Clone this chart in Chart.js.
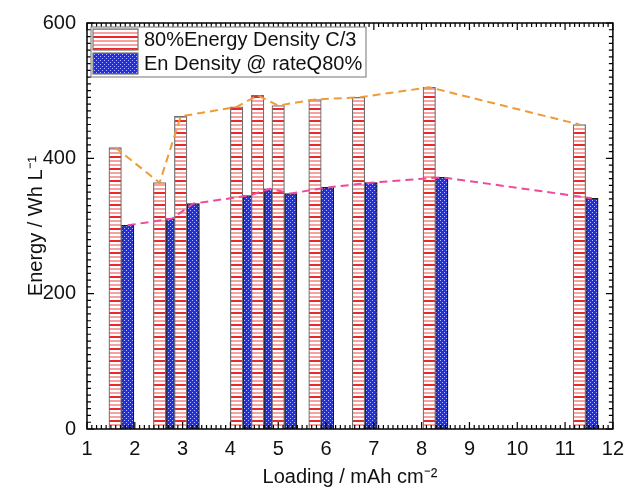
<!DOCTYPE html>
<html>
<head>
<meta charset="utf-8">
<script src="https://cdn.jsdelivr.net/npm/chart.js@4.4.1/dist/chart.umd.min.js"></script>
<style>
  html, body { margin: 0; padding: 0; background: #fff; }
  #wrap { width: 632px; height: 489px; }
</style>
</head>
<body>
<div id="wrap"><canvas id="energy_loading"></canvas></div>
<script>
// loading (mAh cm-2) and energy density (Wh L-1)
const loading = [1.72, 2.65, 3.09, 4.26, 4.70, 5.13, 5.90, 6.81, 8.29, 11.43];
const energyC3 = [416, 364, 462, 476, 493, 478, 487, 490, 505, 450];
const energyRateQ80 = [301, 311, 333, 345, 355, 348, 357, 364, 372, 341];
const xTicks = [1, 2, 3, 4, 5, 6, 7, 8, 9, 10, 11, 12];
const yTicks = [0, 200, 400, 600];

const FONT = 'Arial, "Liberation Sans", sans-serif';

// red striped fill
function stripePattern() {
  const c = document.createElement('canvas');
  c.width = 4; c.height = 12;
  const g = c.getContext('2d');
  g.fillStyle = '#ffffff';
  g.fillRect(0, 0, 4, 12);
  for (let r = 0; r < 12; r += 4) {
    g.fillStyle = r === 0 ? '#e82a2a' : '#f6a2a2';
    g.fillRect(0, r, 4, 2);
  }
  return g.createPattern(c, 'repeat');
}

// blue dotted fill
function dotPattern() {
  const c = document.createElement('canvas');
  c.width = 4; c.height = 4;
  const g = c.getContext('2d');
  g.fillStyle = '#1f2ee8';
  g.fillRect(0, 0, 4, 4);
  g.fillStyle = '#b8bcff';
  g.fillRect(0, 0, 1, 1);
  g.fillRect(2, 2, 1, 1);
  return g.createPattern(c, 'repeat');
}

const redFill = stripePattern();
const blueFill = dotPattern();

// dashed lines through the bar tops
const trendLines = {
  id: 'trendLines',
  afterDatasetsDraw(chart) {
    const ctx = chart.ctx;
    const colors = ['#f09a38', '#f0489c'];
    ctx.save();
    ctx.beginPath();
    ctx.rect(chart.chartArea.left, chart.chartArea.top, chart.chartArea.width, chart.chartArea.height);
    ctx.clip();
    [0, 1].forEach(i => {
      const pts = chart.getDatasetMeta(i).data;
      ctx.beginPath();
      pts.forEach((p, j) => j ? ctx.lineTo(p.x, p.y) : ctx.moveTo(p.x, p.y));
      ctx.strokeStyle = colors[i];
      ctx.lineWidth = 2;
      ctx.setLineDash([8, 5]);
      ctx.stroke();
    });
    ctx.restore();
  }
};

// frame with inward ticks on all four sides, and boxed legend
const frameAndLegend = {
  id: 'frameAndLegend',
  afterDraw(chart) {
    const ctx = chart.ctx;
    const a = chart.chartArea;
    const xs = chart.scales.x, ys = chart.scales.y;
    ctx.save();
    ctx.strokeStyle = '#000';
    ctx.lineWidth = 1.5;
    ctx.setLineDash([]);
    ctx.strokeRect(a.left, a.top, a.width, a.height);
    ctx.lineWidth = 1.2;
    ctx.beginPath();
    for (let k = 10; k <= 120; k++) {
      const px = xs.getPixelForValue(k / 10);
      const len = k % 10 === 0 ? 7 : 4;
      ctx.moveTo(px, a.bottom); ctx.lineTo(px, a.bottom - len);
      ctx.moveTo(px, a.top); ctx.lineTo(px, a.top + len);
    }
    for (let v = 0; v <= 600; v += 10) {
      const py = ys.getPixelForValue(v);
      const len = v % 200 === 0 ? 7 : 4;
      ctx.moveTo(a.left, py); ctx.lineTo(a.left + len, py);
      ctx.moveTo(a.right, py); ctx.lineTo(a.right - len, py);
    }
    ctx.stroke();

    // legend
    const lx = a.left + 4, ly = a.top + 4;
    ctx.fillStyle = '#fff';
    ctx.fillRect(lx, ly, 275, 50);
    ctx.strokeStyle = '#8a8a8a';
    ctx.lineWidth = 1.2;
    ctx.strokeRect(lx, ly, 275, 50);
    ctx.font = '20px ' + FONT;
    ctx.textBaseline = 'middle';
    chart.data.datasets.forEach((ds, i) => {
      const sy = ly + 2 + i * 24;
      ctx.fillStyle = ds.backgroundColor;
      ctx.fillRect(lx + 2, sy, 45, 21);
      ctx.strokeStyle = '#777';
      ctx.strokeRect(lx + 2, sy, 45, 21);
      ctx.fillStyle = '#111';
      ctx.fillText(ds.label, lx + 53, sy + 11);
    });
    ctx.restore();
  }
};

const ctx = document.getElementById('energy_loading');
const energy_loading = new Chart(ctx, {
  type: 'bar',
  data: {
    datasets: [{
      label: '80%Energy Density C/3',
      data: loading.map((x, i) => ({ x: x, y: energyC3[i] })),
      backgroundColor: redFill,
      borderColor: '#6e6e6e',
      borderWidth: 1.2,
      barThickness: 12.5
    }, {
      label: 'En Density @ rateQ80%',
      data: loading.map((x, i) => ({ x: x, y: energyRateQ80[i] })),
      backgroundColor: blueFill,
      borderColor: '#1a1a1a',
      borderWidth: 1.2,
      barThickness: 12.5
    }]
  },
  options: {
    responsive: true,
    maintainAspectRatio: false,
    animation: false,
    layout: { padding: { top: 22, right: 13, left: 0, bottom: 0 } },
    plugins: {
      legend: { display: false },
      tooltip: { enabled: false }
    },
    scales: {
      x: {
        type: 'linear',
        offset: false,
        min: 1,
        max: 12,
        afterBuildTicks: s => { s.ticks = xTicks.map(v => ({ value: v })); },
        afterFit: s => { s.height = 60; },
        grid: { display: false, drawTicks: false },
        border: { display: false },
        ticks: { font: { size: 20, family: FONT }, color: '#111', padding: 8, maxRotation: 0, autoSkip: false },
        title: {
          display: true,
          text: 'Loading / mAh cm\u207B\u00B2',
          font: { size: 20, family: FONT },
          color: '#111',
          padding: { top: 0, bottom: 0 }
        }
      },
      y: {
        min: 0,
        max: 600,
        afterBuildTicks: s => { s.ticks = yTicks.map(v => ({ value: v })); },
        afterFit: s => { s.width = 87; },
        grid: { display: false, drawTicks: false },
        border: { display: false },
        ticks: { font: { size: 20, family: FONT }, color: '#111', padding: 11 },
        title: {
          display: true,
          text: 'Energy / Wh L\u207B\u00B9',
          font: { size: 20, family: FONT },
          color: '#111',
          padding: { top: 24, bottom: 0 }
        }
      }
    }
  },
  plugins: [trendLines, frameAndLegend]
});
</script>
</body>
</html>
